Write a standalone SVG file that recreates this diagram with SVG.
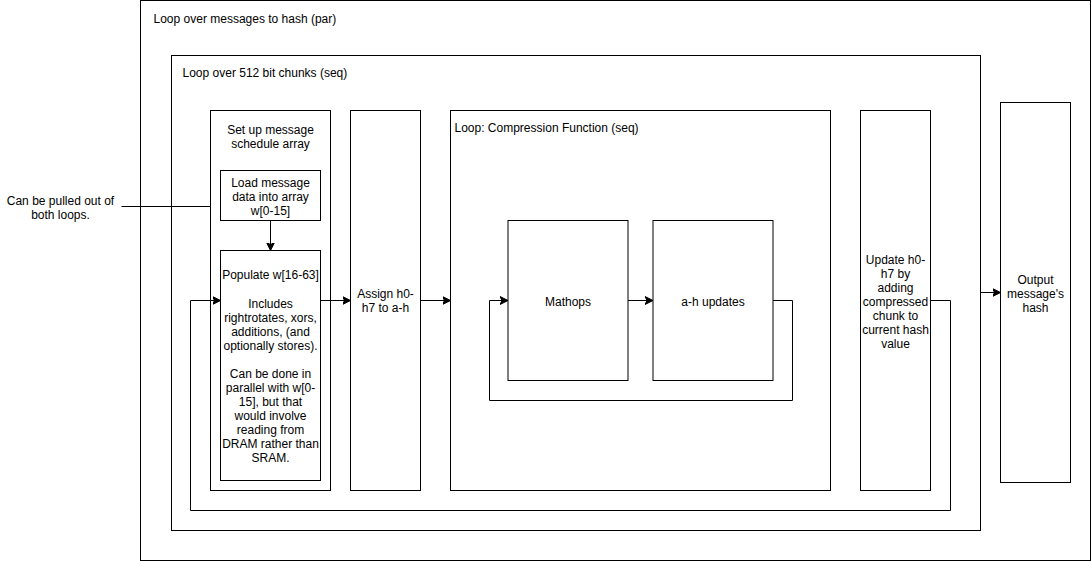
<svg xmlns="http://www.w3.org/2000/svg" width="1091" height="561" viewBox="0 0 1091 561">
<style>
.box{fill:#ffffff;stroke:#000000;stroke-width:1}
.t{font-family:"Liberation Sans",Arial,Helvetica,sans-serif;font-size:12px;fill:#000000}
.c{text-anchor:middle}
.e{fill:none;stroke:#000000;stroke-width:1}
</style>
<defs>
<marker id="arr" markerUnits="userSpaceOnUse" markerWidth="10" markerHeight="10" viewBox="0 0 10 10" refX="8" refY="5" orient="auto">
<path d="M0,1 L8,5 L0,9 L2,5 z" fill="#000000" stroke="#000000" stroke-width="1"/>
</marker>
</defs>
<rect width="1091" height="561" fill="#ffffff"/>
<g transform="translate(0.5,0.5)">
<g id="outer-loop">
<rect class="box" x="140" y="0" width="950" height="560"/>
<text class="t" x="153" y="22">Loop over messages to hash (par)</text>
</g>
<g id="chunk-loop">
<rect class="box" x="171" y="55" width="809" height="475"/>
<text class="t" x="182" y="76">Loop over 512 bit chunks (seq)</text>
</g>
<g id="setup">
<rect class="box" x="210" y="110" width="120" height="380"/>
<text class="t c" x="270" y="133">Set up message</text>
<text class="t c" x="270" y="147">schedule array</text>
</g>
<g id="load">
<rect class="box" x="220" y="170" width="100" height="50"/>
<text class="t c" x="270" y="186">Load message</text>
<text class="t c" x="270" y="200">data into array</text>
<text class="t c" x="270" y="214">w[0-15]</text>
</g>
<g id="populate">
<rect class="box" x="220" y="250" width="100" height="230"/>
<text class="t c" x="270" y="278">Populate w[16-63]</text>
<text class="t c" x="270" y="307">Includes</text>
<text class="t c" x="270" y="321">rightrotates, xors,</text>
<text class="t c" x="270" y="335">additions, (and</text>
<text class="t c" x="270" y="349">optionally stores).</text>
<text class="t c" x="270" y="377">Can be done in</text>
<text class="t c" x="270" y="391">parallel with w[0-</text>
<text class="t c" x="270" y="405">15], but that</text>
<text class="t c" x="270" y="419">would involve</text>
<text class="t c" x="270" y="433">reading from</text>
<text class="t c" x="270" y="447">DRAM rather than</text>
<text class="t c" x="270" y="461">SRAM.</text>
</g>
<g id="assign">
<rect class="box" x="350" y="110" width="70" height="380"/>
<text class="t c" x="385" y="297">Assign h0-</text>
<text class="t c" x="385" y="311">h7 to a-h</text>
</g>
<g id="compression">
<rect class="box" x="450" y="110" width="380" height="380"/>
<text class="t" x="454" y="131">Loop: Compression Function (seq)</text>
</g>
<g id="mathops">
<rect class="box" x="507.5" y="220" width="120" height="160"/>
<text class="t c" x="567.5" y="305">Mathops</text>
</g>
<g id="ah-updates">
<rect class="box" x="652.5" y="220" width="120" height="160"/>
<text class="t c" x="712.5" y="305">a-h updates</text>
</g>
<g id="update">
<rect class="box" x="860" y="110" width="70" height="380"/>
<text class="t c" x="895" y="263">Update h0-</text>
<text class="t c" x="895" y="277">h7 by</text>
<text class="t c" x="895" y="291">adding</text>
<text class="t c" x="895" y="305">compressed</text>
<text class="t c" x="895" y="319">chunk to</text>
<text class="t c" x="895" y="333">current hash</text>
<text class="t c" x="895" y="347">value</text>
</g>
<g id="output">
<rect class="box" x="1000" y="102" width="70" height="380"/>
<text class="t c" x="1035" y="283">Output</text>
<text class="t c" x="1035" y="297">message's</text>
<text class="t c" x="1035" y="311">hash</text>
</g>
<g id="note">
<text class="t c" x="60" y="204">Can be pulled out of</text>
<text class="t c" x="60" y="218">both loops.</text>
</g>
<g id="connectors">
<path class="e" d="M121,206 L210,206"/>
<path class="e" d="M270,220 L270,250" marker-end="url(#arr)"/>
<path class="e" d="M320,300 L350,300" marker-end="url(#arr)"/>
<path class="e" d="M420,300 L450,300" marker-end="url(#arr)"/>
<path class="e" d="M627.5,300 L652.5,300" marker-end="url(#arr)"/>
<path class="e" d="M772.5,300 L792,300 L792,400 L489,400 L489,300 L507.5,300" marker-end="url(#arr)"/>
<path class="e" d="M930,300 L950,300 L950,510 L190,510 L190,300 L220,300" marker-end="url(#arr)"/>
<path class="e" d="M980,292 L1000,292" marker-end="url(#arr)"/>
</g>
</g>
</svg>
